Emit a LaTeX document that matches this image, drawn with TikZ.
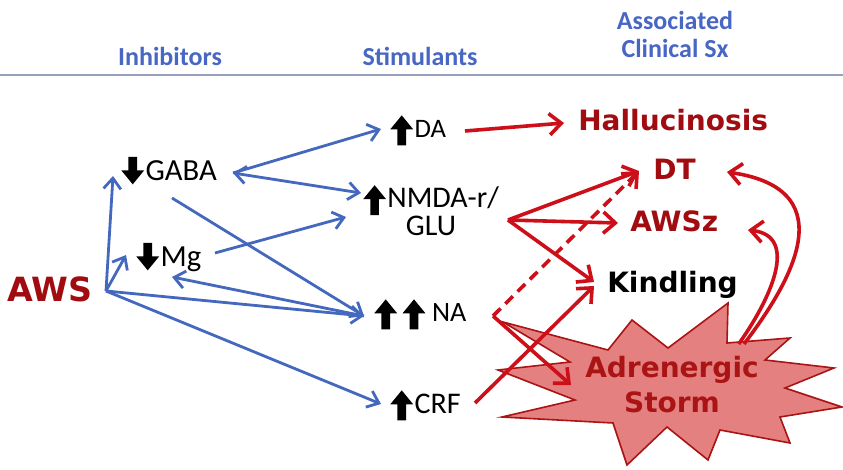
\documentclass[tikz,border=0pt]{standalone}
\usepackage{fontspec}
\setmainfont{Carlito}
\newfontfamily\dvb{DejaVu Sans}
\usetikzlibrary{arrows.meta}
\definecolor{bluec}{RGB}{68,104,190}
\definecolor{headc}{RGB}{72,102,196}
\definecolor{redc}{RGB}{205,15,25}
\definecolor{redtxt}{RGB}{160,12,16}
\definecolor{starfill}{RGB}{228,128,128}
\definecolor{starline}{RGB}{170,20,20}
\definecolor{rulec}{RGB}{150,160,190}
\newcommand\uparw{\tikz[baseline=0pt,x=1pt,y=1pt]\fill (-3.2,-5.5) -- (3.2,-5.5) -- (3.2,6.5) -- (8.6,6.5) -- (0,17) -- (-8.6,6.5) -- (-3.2,6.5) -- cycle;}
\newcommand\dnarw{\tikz[baseline=0pt,x=1pt,y=1pt]\fill (-3.2,18) -- (3.2,18) -- (3.2,8) -- (8.6,8) -- (0,-2.5) -- (-8.6,8) -- (-3.2,8) -- cycle;}
\tikzset{
  blk/.style={inner sep=0pt, text=black, anchor=base west},
  head/.style={inner sep=0pt, text=headc, anchor=base, font=\fontsize{19.5pt}{21pt}\selectfont\bfseries},
  sx/.style={inner sep=0pt, text=redtxt, anchor=base west, font=\fontsize{21pt}{23pt}\selectfont\dvb\bfseries},
  bluearrow/.style={draw=bluec, line width=2.1pt, -{Straight Barb[length=8pt,width=13pt]}},
  redarrow/.style={draw=redc, line width=2.7pt, -{Straight Barb[length=9pt,width=16pt]}},
}
\begin{document}
\begin{tikzpicture}[x=0.75pt,y=-0.75pt]
\useasboundingbox (0,0) rectangle (843,470);
\fill[white] (0,0) rectangle (843,470);
% header
\coordinate (ruleL) at (0,75);
\coordinate (ruleR) at (843,75);
\draw[rulec, line width=1.5pt] (ruleL) -- (ruleR);
\node[head] (inh) at (170,66) {Inhibitors};
\node[head] (stim) at (420,66) {Stimulants};
\node[head] (assoc) at (675,30) {Associated};
\node[head] (clin) at (675,58) {Clinical Sx};
% star
\filldraw[fill=starfill, draw=starline, line width=1.2pt, line join=miter]
  (503,322) -- (608,350) -- (632,320) -- (668,348) -- (728,303) -- (727,343)
  -- (790,338) -- (765,360) -- (834,368) -- (785,388) -- (842,407) -- (780,417)
  -- (790,443) -- (720,430) -- (708,460) -- (667,427) -- (627,465) -- (613,423)
  -- (502,417) -- (575,400) -- (498,370) -- (570,362) -- cycle;
% labels
\node[blk, font=\fontsize{23pt}{24pt}\selectfont] (gaba) at (121,181) {\dnarw\hspace{1pt}GABA};
\node[blk, font=\fontsize{23pt}{24pt}\selectfont] (mg) at (136,267) {\dnarw\hspace{1pt}Mg};
\node[blk, font=\fontsize{20pt}{21pt}\selectfont] (da) at (390,138) {\uparw\hspace{1pt}DA};
\node[inner sep=0pt, anchor=base, align=center, font=\fontsize{22.5pt}{16.5pt}\selectfont] (nmda) at (431,236) {\uparw\hspace{1pt}NMDA-r/\\GLU};
\node[blk, font=\fontsize{21pt}{23pt}\selectfont] (na) at (374,322) {\uparw\hspace{4pt}\uparw\hspace{5pt}NA};
\node[blk, font=\fontsize{22.5pt}{24pt}\selectfont] (crf) at (390,413) {\uparw\hspace{1pt}CRF};
\node[sx, font=\fontsize{25pt}{27pt}\selectfont\dvb\bfseries] (aws) at (7,302) {AWS};
\node[sx] (hall) at (578,131) {Hallucinosis};
\node[sx] (dt) at (653,180) {DT};
\node[sx] (awsz) at (630,232) {AWSz};
\node[sx, text=black] (kind) at (607,293) {Kindling};
\node[sx, anchor=base, text=starline] (adren) at (672,378) {Adrenergic};
\node[sx, anchor=base, text=starline] (storm) at (672,412) {Storm};
% connector ports
\coordinate (awsP) at (106,291);
\coordinate (gabaIn) at (113,176);
\coordinate (mgIn) at (126,255);
\coordinate (naIn) at (364,316);
\coordinate (crfIn) at (381,404);
\coordinate (gabaR) at (233,173);
\coordinate (daIn) at (381,129);
\coordinate (nmdaIn) at (361,193);
\coordinate (gabaLow) at (172,198);
\coordinate (mgR) at (215,253);
\coordinate (nmdaIn2) at (346,217);
\coordinate (mgIn2) at (172,277);
\coordinate (daR) at (465,131);
\coordinate (hallIn) at (564,123);
\coordinate (nmdaR) at (508,220);
\coordinate (dtIn) at (639,171);
\coordinate (awszIn) at (618,223);
\coordinate (kindIn) at (594,282);
\coordinate (naR) at (493,316);
\coordinate (stormIn) at (571,385);
\coordinate (crfR) at (475,403);
\coordinate (kindIn2) at (594,286);
\coordinate (stormTop) at (744,344);
\coordinate (dtR) at (727,172);
\coordinate (awszR) at (748,230);
% blue connectors
\draw[bluearrow] (awsP) -- (gabaIn);
\draw[bluearrow] (awsP) -- (mgIn);
\draw[bluearrow] (awsP) -- (naIn);
\draw[bluearrow] (awsP) -- (crfIn);
\draw[bluearrow] (gabaR) -- (daIn);
\draw[bluearrow, {Straight Barb[length=8pt,width=13pt]}-{Straight Barb[length=8pt,width=13pt]}] (gabaR) -- (nmdaIn);
\draw[bluearrow] (gabaLow) -- (naIn);
\draw[bluearrow] (mgR) -- (nmdaIn2);
\draw[bluearrow] (naIn) -- (mgIn2);
% red connectors
\draw[redarrow] (daR) -- (hallIn);
\draw[redarrow] (nmdaR) -- (dtIn);
\draw[redarrow] (nmdaR) -- (awszIn);
\draw[redarrow] (nmdaR) -- (kindIn);
\draw[redarrow, dash pattern=on 8pt off 5pt] (naR) -- (dtIn);
\draw[redarrow] (naR) -- (stormIn);
\draw[redarrow] (crfR) -- (kindIn2);
\draw[redarrow] (stormTop) .. controls (785,290) and (850,190) .. (dtR);
\draw[redarrow] ([xshift=-4pt]stormTop) .. controls (770,300) and (800,236) .. (awszR);
\end{tikzpicture}
\end{document}
